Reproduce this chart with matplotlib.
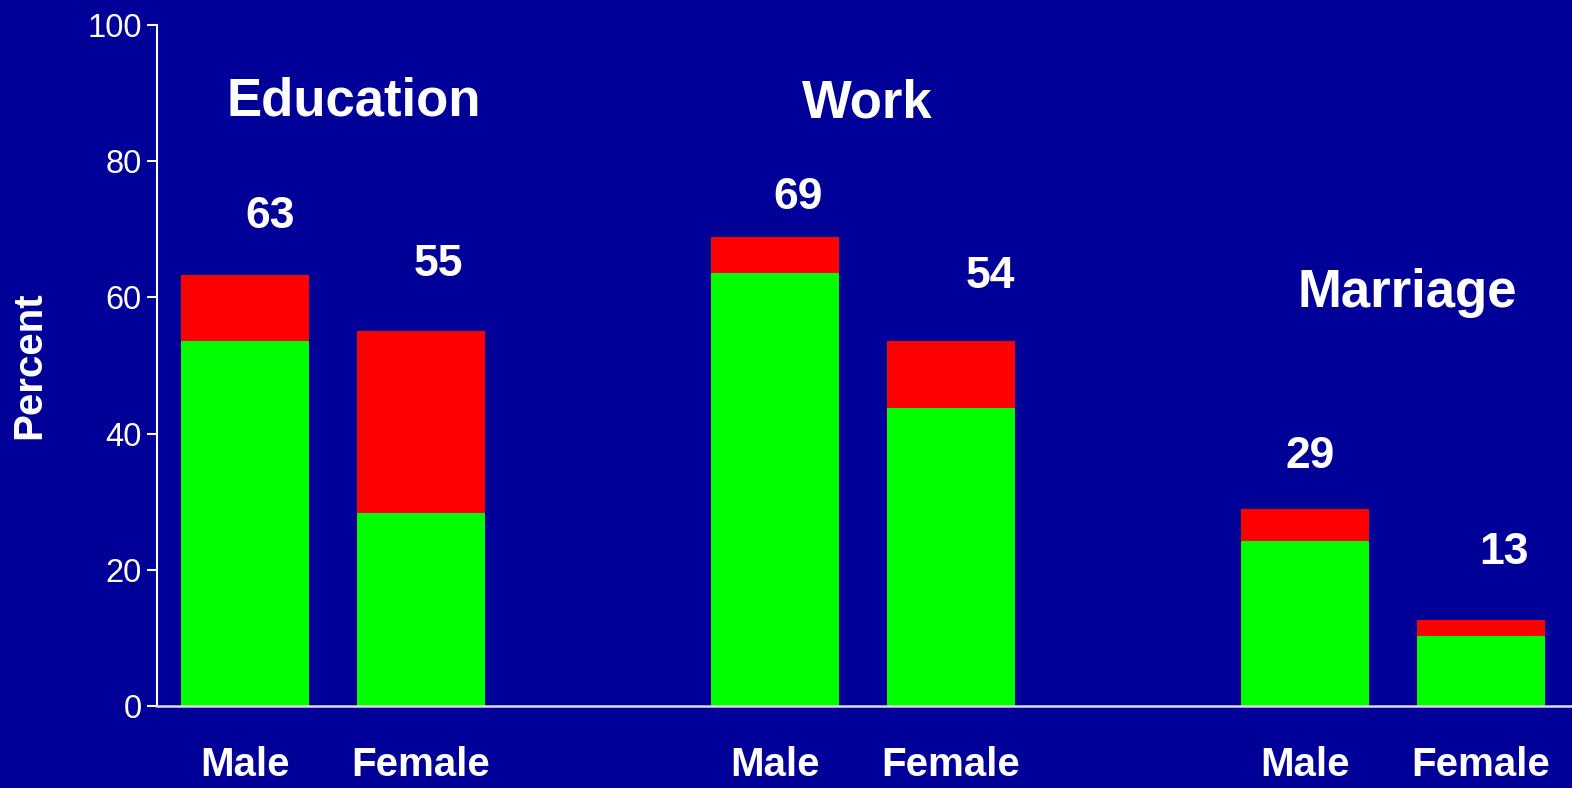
import numpy as np
import matplotlib
matplotlib.use("Agg")
import matplotlib.pyplot as plt

plt.rcParams["font.family"] = ["Liberation Sans", "DejaVu Sans"]

# Data
groups = ["Education", "Work", "Marriage"]
sexes = ["Male", "Female"]
green_vals = [53.6, 28.3, 63.6, 43.8, 24.2, 10.3]
total_vals = [63.3, 55.1, 68.9, 53.6, 28.9, 12.6]
value_labels = ["63", "55", "69", "54", "29", "13"]

# layout
group_start = [0.88, 6.18, 11.48]
pair_gap = 1.76
bar_w = 1.28
label_y = [71.9, 64.9, 74.7, 63.1, 36.7, 22.6]
label_dx = [0.25, 0.17, 0.23, 0.39, 0.05, 0.23]
title_pos = [(1.97, 88.8), (7.1, 88.4), (12.5, 60.6)]

bg = "#000099"
fig = plt.figure(figsize=(15.72, 7.88), dpi=100, facecolor=bg)
ax = fig.add_axes([157 / 1572, (788 - 706) / 788, (1572 - 157) / 1572, (706 - 25) / 788])
ax.set_facecolor(bg)

xs = []
for g in group_start:
    xs += [g, g + pair_gap]
xs = np.array(xs)
red_vals = np.array(total_vals) - np.array(green_vals)

ax.bar(xs, green_vals, width=bar_w, color="#00ff00", linewidth=0, zorder=2)
ax.bar(xs, red_vals, width=bar_w, bottom=green_vals, color="#ff0000", linewidth=0, zorder=2)

for x, ly, dx, t in zip(xs, label_y, label_dx, value_labels):
    ax.text(x + dx, ly, t, color="white", fontsize=32, fontweight="bold",
            ha="center", va="center")

for name, (tx, ty) in zip(groups, title_pos):
    ax.text(tx, ty, name, color="white", fontsize=38, fontweight="bold",
            ha="center", va="center")

ax.set_xlim(0, 14.15)
ax.set_ylim(0, 100)
ax.set_yticks([0, 20, 40, 60, 80, 100])
ax.set_xticks(xs)
ax.set_xticklabels(sexes * 3, fontsize=29, fontweight="bold", color="white")
ax.tick_params(axis="x", length=0, pad=29)
ax.tick_params(axis="y", length=7, width=1.5, color="white", labelcolor="white",
               labelsize=23.5, pad=4, direction="out")

ax.spines["top"].set_visible(False)
ax.spines["right"].set_visible(False)
ax.spines["left"].set_color("white")
ax.spines["left"].set_linewidth(1.5)
ax.spines["bottom"].set_color("#dddddd")
ax.spines["bottom"].set_linewidth(1.8)

ax.set_ylabel("Percent", fontsize=29, fontweight="bold", color="white", labelpad=28)

fig.savefig("out.png", dpi=100, facecolor=bg)
